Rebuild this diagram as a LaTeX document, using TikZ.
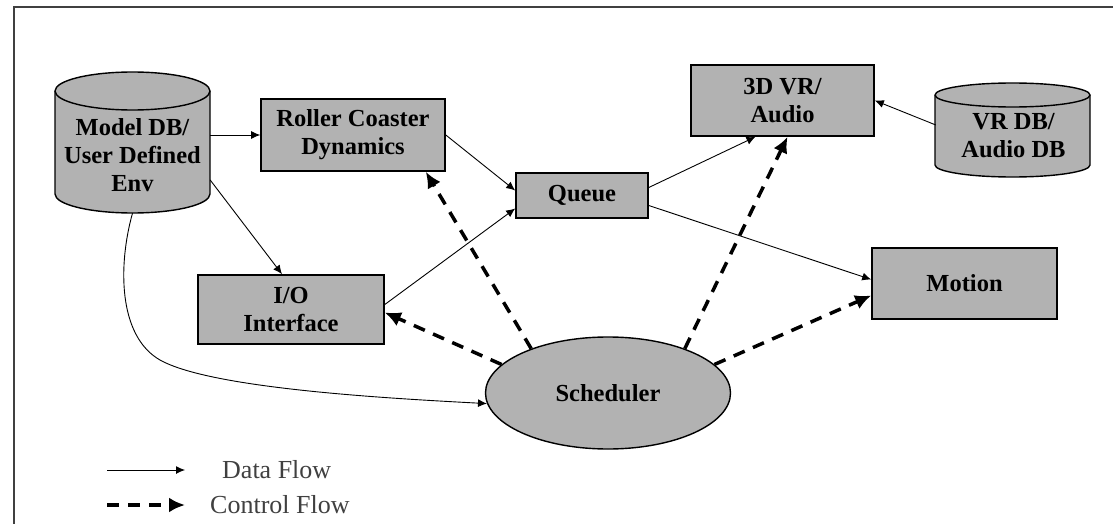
\documentclass[tikz,border=0pt]{standalone}
\usepackage{fontspec}
\setmainfont{Liberation Serif}
\usetikzlibrary{arrows.meta, positioning, shapes.geometric}

\newcommand{\boxfont}{\fontsize{24.5}{28}\selectfont\bfseries}
\newcommand{\keyfont}{\fontsize{26}{30}\selectfont}
% drum outline: left x, right x, centre y of top ellipse, centre y of bottom arc, half width, y radius
\newcommand{\drum}[6]{%
  \path[drumfill] (#1,#3) -- (#1,#4) arc[start angle=180, end angle=0, x radius=#5, y radius=#6]
    -- (#2,#3) arc[start angle=0, end angle=-180, x radius=#5, y radius=#6] -- cycle;
  \draw[line width=1.4pt] (#1,#3) arc[start angle=180, end angle=0, x radius=#5, y radius=#6];}

\begin{document}
\begin{tikzpicture}[
    x=1pt, y=-1pt,
    box/.style={rectangle, draw, line width=1.6pt, fill=black!30, inner sep=0pt, align=center, font=\boxfont},
    drumfill/.style={draw, line width=1.4pt, fill=black!30},
    dbtext/.style={rectangle, inner sep=0pt, align=center, font=\boxfont},
    sched_shape/.style={ellipse, draw, line width=1.4pt, fill=black!30, inner sep=0pt, font=\boxfont},
    data/.style={draw, line width=0.9pt, -{Latex[length=9pt,width=8pt]}},
    ctrl/.style={draw, line width=3.5pt, dash pattern=on 12pt off 9pt, -{Latex[length=16pt,width=15pt]}}
]
    \useasboundingbox (0,0) rectangle (1113,524);
    % frame
    \draw[black!75, line width=1.2pt] (14,524) -- (14,7) -- (1113,7);

    % the two data stores
    \drum{55}{210}{91}{194}{77.5}{19}
    \drum{935}{1090}{95}{165}{77.5}{12}

    % Place nodes
    \node [dbtext, minimum width=155pt, minimum height=116pt] (modeldb) at (132.5,155) {Model DB/\\User Defined\\Env};
    \node [box, minimum width=184pt, minimum height=72pt, right=50pt of modeldb, yshift=20pt] (roller) {Roller Coaster\\Dynamics};
    \node [box, minimum width=132pt, minimum height=45pt] (queue) at (582,195.5) {Queue};
    \node [box, minimum width=183pt, minimum height=71pt] (vr3d) at (782.5,100.5) {3D VR/\\Audio};
    \node [dbtext, minimum width=155pt, minimum height=82pt, right=61pt of vr3d, yshift=-35.5pt] (vrdb) {VR DB/\\Audio DB};
    \node [box, minimum width=185pt, minimum height=71pt] (motion) at (964.5,283.5) {Motion};
    \node [box, minimum width=186pt, minimum height=69pt] (io) at (291,309.5) {I/O\\Interface};
    \node [sched_shape, minimum width=245pt, minimum height=112pt] (sched) at (608,393) {Scheduler};

    % Data flow
    \path [data] (modeldb.east |- roller.west) -- (roller.west);
    \path [data] ([yshift=-25pt]modeldb.east) -- ([xshift=-9pt]io.north);
    \path [data] (modeldb.south) .. controls (118,265) and (118,336) .. (160,360)
                 .. controls (210,388) and (380,398) .. (sched.185);
    \path [data] (roller.east) -- ([yshift=5pt]queue.west);
    \path [data] ([yshift=5pt]io.east) -- ([yshift=-13pt]queue.west);
    \path [data] ([yshift=8pt]queue.east) -- ([xshift=-27pt]vr3d.south);
    \path [data] ([yshift=-10pt]queue.east) -- ([yshift=4pt]motion.west);
    \path [data] ([yshift=11pt]vrdb.west) -- (vr3d.east);

    % Control flow
    \path [ctrl] (sched.150) -- ([xshift=-20pt]roller.south east);
    \path [ctrl] (sched.165) -- ([yshift=-3pt]io.east);
    \path [ctrl] (sched.30) -- ([xshift=5pt]vr3d.south);
    \path [ctrl] (sched.15) -- ([yshift=-12pt]motion.west);

    % Legend
    \coordinate (data_from) at (107,470);
    \coordinate (data_to) at (185,470);
    \coordinate (ctrl_from) at (107,505);
    \coordinate (ctrl_to) at (185,505);
    \path [data] (data_from) -- (data_to);
    \path [ctrl] (ctrl_from) -- (ctrl_to);
    \node [anchor=west, font=\keyfont, text=black!75, inner sep=0pt] (data_key) at (222,470) {Data Flow};
    \node [anchor=west, font=\keyfont, text=black!75, inner sep=0pt] (ctrl_key) at (210,505) {Control Flow};
\end{tikzpicture}
\end{document}
